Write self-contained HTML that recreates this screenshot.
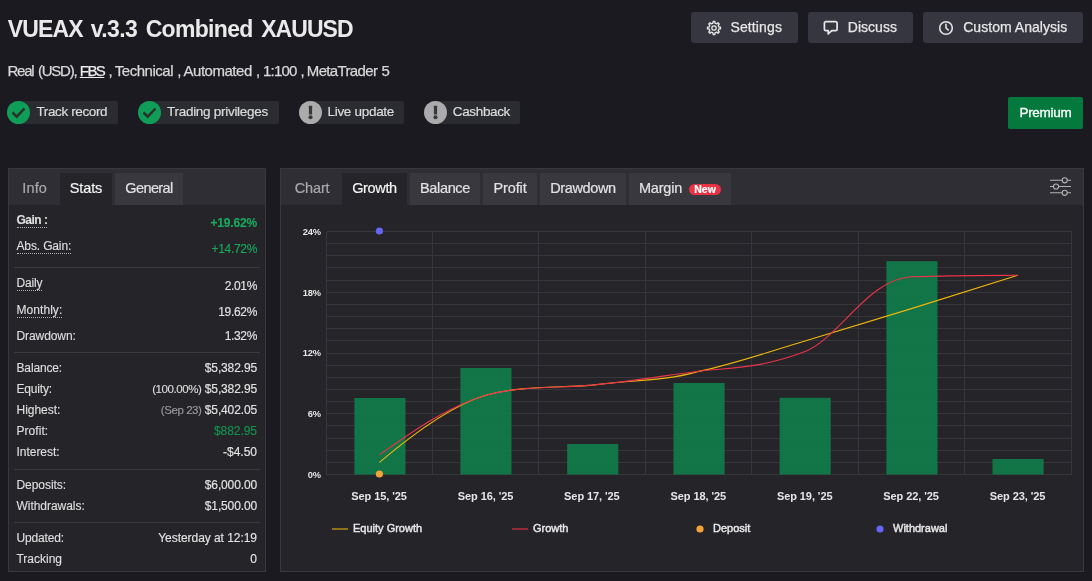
<!DOCTYPE html>
<html lang="en">
<head>
<meta charset="utf-8">
<title>VUEAX v.3.3 Combined XAUUSD</title>
<style>
*{box-sizing:border-box;margin:0;padding:0}
html,body{width:1092px;height:581px;overflow:hidden}
body{background:#1b1a20;color:#e4e4e4;font-family:"Liberation Sans",sans-serif;position:relative}
.abs{position:absolute;white-space:nowrap}
h1{position:absolute;left:8px;top:16px;font-size:23px;line-height:26px;font-weight:bold;color:#eaeaea;white-space:nowrap;letter-spacing:-0.2px}
.sub{left:8px;top:62px;font-size:15px;line-height:18px;color:#d8d8d8;-webkit-text-stroke:0.25px #d8d8d8}
.sub u{text-decoration:underline;color:#ececec;-webkit-text-stroke:0.25px #ececec}
.sub span,.sub u,h1 span{position:absolute;top:0}
.btn{top:12px;height:31px;background:#363640;border-radius:3px;color:#e6e6e6;font-size:14px;line-height:31px}
.btn svg{position:absolute}
.btn span{position:absolute;top:0px;-webkit-text-stroke:0.25px #e6e6e6}
.premium{-webkit-text-stroke:0.3px #fff;left:1008px;top:97px;width:75px;height:32px;background:#05793d;border-radius:2px;color:#fff;font-size:13.5px;line-height:31px;text-align:center}
.badge{top:101px;height:23px;background:#2b2b32;border-radius:12px 2px 2px 12px;font-size:13.5px;line-height:22px;color:#dcdcdc}
.badge i{position:absolute;left:0;top:0;width:23px;height:23px;border-radius:50%;display:block}
.badge span{position:absolute;left:29.5px;top:0px;-webkit-text-stroke:0.2px #dcdcdc}
.badge svg{position:absolute;left:0;top:0}
.ok i{background:#0f9d58}
.warn i{background:#ababab}
.panel{background:#242429;border:1px solid #38383e}
.tabbar{position:absolute;left:0;right:0;top:0;height:36px;background:#2e2e34}
.tab{-webkit-text-stroke:0.2px currentColor;position:absolute;top:4px;height:32px;font-size:14.5px;line-height:30px;color:#e2e2e2;background:#38383e;text-align:center;white-space:nowrap}
.tab.on{background:#242429;color:#f4f4f4}
.tab.lbl{background:none;color:#a9a9a9}
.row{-webkit-text-stroke:0.15px currentColor;position:absolute;left:7.5px;right:8px;height:16px;font-size:12px;line-height:16px;color:#dedede;white-space:nowrap}
.row b{font-weight:bold}
.row .k{position:absolute;left:0;top:0}
.row .k.d{border-bottom:1px dotted #b0b0b0;line-height:14px;height:15px}
.row .v{position:absolute;right:0;top:0;color:#e2e2e2}
.row .v.g{color:#19a85e}
.row .v small{font-size:11.5px;color:#9a9a9a}
.sep{position:absolute;left:5px;right:5px;height:1px;background:#3a3a40}
svg.chart{position:absolute;left:0;top:0}
svg.chart text{font-family:"Liberation Sans",sans-serif;font-size:11px;fill:#e6e6e6}
svg.chart .xl text,svg.chart .yl text{font-weight:bold;letter-spacing:-0.08px}
svg.chart .yl text{font-size:9.3px;letter-spacing:-0.1px}
svg.chart .lg text{stroke:#e6e6e6;stroke-width:0.45px}
#t0{letter-spacing:-0.850px}
#t1{letter-spacing:-0.591px}
#t2{letter-spacing:-0.682px}
#t3{letter-spacing:-0.938px}
#t4{letter-spacing:-1.215px}
#t5{letter-spacing:-1.255px}
#t6{letter-spacing:-1.562px}
#t7{letter-spacing:-2.172px}
#t8{letter-spacing:-0.483px}
#t9{letter-spacing:-2.172px}
#t10{letter-spacing:-0.472px}
#t11{letter-spacing:-2.172px}
#t12{letter-spacing:-0.809px}
#t13{letter-spacing:-1.872px}
#t14{letter-spacing:-0.648px}
#t15{letter-spacing:-0.544px}
#t16{letter-spacing:0.113px}
#t17{letter-spacing:0.026px}
#t18{letter-spacing:0.041px}
#t19{letter-spacing:-0.259px}
#t20{letter-spacing:-0.380px}
#t21{letter-spacing:-0.281px}
#t22{letter-spacing:-0.301px}
#t23{letter-spacing:-0.356px}
#t24{letter-spacing:0.128px}
#t25{letter-spacing:-0.149px}
#t26{letter-spacing:-0.599px}
#t27{letter-spacing:-0.519px}
#t28{letter-spacing:-0.174px}
#t29{letter-spacing:-0.143px}
#t30{letter-spacing:-0.317px}
#t31{letter-spacing:-0.154px}
#t32{letter-spacing:-0.346px}
#t33{letter-spacing:0.055px}
#t34{letter-spacing:-0.317px}
#t35{letter-spacing:-0.081px}
#t36{letter-spacing:-0.346px}
#t37{letter-spacing:-0.150px}
#t38{letter-spacing:-0.132px}
#t39{letter-spacing:-0.184px}
#t40{letter-spacing:-0.418px}
#t41{letter-spacing:-0.132px}
#t42{letter-spacing:-0.016px}
#t43{letter-spacing:-0.439px}
#t44{letter-spacing:-0.132px}
#t45{letter-spacing:0.051px}
#t46{letter-spacing:-0.042px}
#t47{letter-spacing:-0.029px}
#t48{letter-spacing:-0.005px}
#t49{letter-spacing:-0.048px}
#t50{letter-spacing:-0.132px}
#t51{letter-spacing:-0.041px}
#t52{letter-spacing:-0.132px}
#t53{letter-spacing:-0.150px}
#t54{letter-spacing:-0.047px}
#t55{letter-spacing:-0.010px}
#t56{letter-spacing:-0.154px}
#t57{letter-spacing:-0.358px}
#t58{letter-spacing:-0.344px}
#t59{letter-spacing:-0.107px}
#t60{letter-spacing:-0.375px}
#t61{letter-spacing:-0.205px}
.new{position:absolute;left:60px;top:11px;width:32px;height:11px;border-radius:6px;background:#e93243;color:#fff;font-size:10.5px;font-weight:bold;line-height:11px;text-align:center}
</style>
</head>
<body>
<h1><span style="left:-0.3px" id="t0">VUEAX</span> <span style="left:82.7px" id="t1">v.3.3</span> <span style="left:137.7px" id="t2">Combined</span> <span style="left:253.2px" id="t3">XAUUSD</span></h1>
<div class="abs sub"><span style="left:-0.5px" id="t4">Real</span> <span style="left:30.0px" id="t5">(USD),</span> <u style="left:71.8px" id="t6">FBS</u> <span style="left:100.5px" id="t7">,</span> <span style="left:106.8px" id="t8">Technical</span> <span style="left:169.3px" id="t9">,</span> <span style="left:175.5px" id="t10">Automated</span> <span style="left:248.0px" id="t11">,</span> <span style="left:255.0px" id="t12">1:100</span> <span style="left:292.5px" id="t13">,</span> <span style="left:298.8px" id="t14">MetaTrader</span> <span style="left:373.5px" id="t15">5</span></div>

<div class="abs btn" style="left:691px;width:107px">
<svg style="left:14.8px;top:7.75px" width="16" height="16" viewBox="-8.5 -8.5 17 17" fill="none" stroke="#e6e6e6" stroke-width="1.4" stroke-linejoin="round"><circle cx="0" cy="0" r="2.3"/><path d="M5.19,-1.07 L6.94,-0.93 L6.94,0.93 L5.19,1.07 L4.43,2.91 L5.56,4.25 L4.25,5.56 L2.91,4.43 L1.07,5.19 L0.93,6.94 L-0.93,6.94 L-1.07,5.19 L-2.91,4.43 L-4.25,5.56 L-5.56,4.25 L-4.43,2.91 L-5.19,1.07 L-6.94,0.93 L-6.94,-0.93 L-5.19,-1.07 L-4.43,-2.91 L-5.56,-4.25 L-4.25,-5.56 L-2.91,-4.43 L-1.07,-5.19 L-0.93,-6.94 L0.93,-6.94 L1.07,-5.19 L2.91,-4.43 L4.25,-5.56 L5.56,-4.25 L4.43,-2.91Z"/></svg>
<span style="left:39.5px" id="t16">Settings</span></div>
<div class="abs btn" style="left:808px;width:105px">
<svg style="left:15px;top:8px" width="16" height="16" viewBox="0 0 16 16" fill="none" stroke="#e6e6e6" stroke-width="1.75" stroke-linejoin="round"><path d="M2.9,1.6H12.6a1.5,1.5 0 0 1 1.5,1.5V9.2a1.5,1.5 0 0 1 -1.5,1.5H8.8L5.2,13.9V10.7H2.9a1.5,1.5 0 0 1 -1.5,-1.5V3.1a1.5,1.5 0 0 1 1.5,-1.5Z"/></svg>
<span style="left:39.8px" id="t17">Discuss</span></div>
<div class="abs btn" style="left:923px;width:160px">
<svg style="left:15px;top:7.6px" width="16" height="16" viewBox="0 0 16 16" fill="none" stroke="#e6e6e6" stroke-width="1.6" stroke-linecap="round" stroke-linejoin="round"><circle cx="8" cy="8" r="6.3"/><path d="M8 4.4V8l2.2 1.9"/></svg>
<span style="left:40.2px" id="t18">Custom Analysis</span></div>

<div class="abs premium" id="t19">Premium</div>

<div class="abs badge ok" style="left:7px;width:111px"><i></i><svg width="23" height="23" viewBox="0 0 23 23" fill="none" stroke="#27322c" stroke-width="2.5"><path d="M5.500 11.500l4.200 4.200 7.800-8.200"/></svg><span id="t20">Track record</span></div>
<div class="abs badge ok" style="left:138px;width:141px"><i></i><svg width="23" height="23" viewBox="0 0 23 23" fill="none" stroke="#27322c" stroke-width="2.5"><path d="M5.500 11.500l4.200 4.200 7.800-8.200"/></svg><span style="left:29px" id="t21">Trading privileges</span></div>
<div class="abs badge warn" style="left:299px;width:105px"><i></i><svg width="23" height="23" viewBox="0 0 23 23"><rect x="9.9" y="4.7" width="3.2" height="8.8" rx="0.5" fill="#37373c"/><circle cx="11.5" cy="16.3" r="2.05" fill="#37373c"/></svg><span style="left:28.5px" id="t22">Live update</span></div>
<div class="abs badge warn" style="left:424px;width:96px"><i></i><svg width="23" height="23" viewBox="0 0 23 23"><rect x="9.9" y="4.7" width="3.2" height="8.8" rx="0.5" fill="#37373c"/><circle cx="11.5" cy="16.3" r="2.05" fill="#37373c"/></svg><span style="left:28.8px" id="t23">Cashback</span></div>

<div class="abs panel" style="left:8px;top:168px;width:258px;height:404px">
<div class="tabbar">
<div class="tab lbl" style="left:2.7px;width:46px" id="t24">Info</div>
<div class="tab on" style="left:51px;width:52px" id="t25">Stats</div>
<div class="tab" style="left:106px;width:68px" id="t26">General</div>
</div>
<div class="row" style="top:44px"><b class="k d" id="t27">Gain :</b><b class="v g" style="top:2px" id="t28">+19.62%</b></div>
<div class="row" style="top:70px"><span class="k d" id="t29">Abs. Gain:</span><span class="v g" style="top:2px" id="t30">+14.72%</span></div>
<div class="sep" style="top:98px"></div>
<div class="row" style="top:107px"><span class="k d" id="t31">Daily</span><span class="v" style="top:2px" id="t32">2.01%</span></div>
<div class="row" style="top:134px"><span class="k d" id="t33">Monthly:</span><span class="v" style="top:1px" id="t34">19.62%</span></div>
<div class="row" style="top:159px"><span class="k" id="t35">Drawdown:</span><span class="v" id="t36">1.32%</span></div>
<div class="sep" style="top:183px"></div>
<div class="row" style="top:191px"><span class="k" id="t37">Balance:</span><span class="v" id="t38">$5,382.95</span></div>
<div class="row" style="top:212px"><span class="k" id="t39">Equity:</span><span class="v"><small style="color:#dcdcdc" id="t40">(100.00%)</small> <span id="t41">$5,382.95</span></span></div>
<div class="row" style="top:233px"><span class="k" id="t42">Highest:</span><span class="v"><small id="t43">(Sep 23)</small> <span id="t44">$5,402.05</span></span></div>
<div class="row" style="top:254px"><span class="k" id="t45">Profit:</span><span class="v g" style="color:#14934f" id="t46">$882.95</span></div>
<div class="row" style="top:275px"><span class="k" id="t47">Interest:</span><span class="v" id="t48">-$4.50</span></div>
<div class="sep" style="top:300px"></div>
<div class="row" style="top:308px"><span class="k" id="t49">Deposits:</span><span class="v" id="t50">$6,000.00</span></div>
<div class="row" style="top:329px"><span class="k" id="t51">Withdrawals:</span><span class="v" id="t52">$1,500.00</span></div>
<div class="sep" style="top:353px"></div>
<div class="row" style="top:361px"><span class="k" id="t53">Updated:</span><span class="v" id="t54">Yesterday at 12:19</span></div>
<div class="row" style="top:382px"><span class="k" id="t55">Tracking</span><span class="v">0</span></div>
</div>

<div class="abs panel" style="left:280px;top:168px;width:804px;height:404px">
<div class="tabbar">
<div class="tab lbl" style="left:2.1px;width:58px" id="t56">Chart</div>
<div class="tab on" style="left:61px;width:65px" id="t57">Growth</div>
<div class="tab" style="left:129px;width:70px" id="t58">Balance</div>
<div class="tab" style="left:202px;width:54px" id="t59">Profit</div>
<div class="tab" style="left:259px;width:86px" id="t60">Drawdown</div>
<div class="tab" style="left:348px;width:102px;text-align:left;padding-left:10px"><span id="t61">Margin</span><span class="new">New</span></div>
<svg style="position:absolute;left:769px;top:7px" width="23" height="21" viewBox="0 0 23 21" fill="none" stroke="#b4b4b4" stroke-width="1.1"><path d="M0 4.300h12.100M17.300 4.300H21M0 10.500h3.400M8.600 10.500H21M0 16.800h12.100M17.300 16.800H21"/><circle cx="14.700" cy="4.300" r="2.550"/><circle cx="6" cy="10.500" r="2.550"/><circle cx="14.700" cy="16.800" r="2.550"/></svg>
</div>
</div>
<svg class="chart" width="1092" height="581" viewBox="0 0 1092 581">
<g stroke="#36363c" stroke-width="1" shape-rendering="crispEdges">
<line x1="326.5" x2="1071.5" y1="231.5" y2="231.5"/>
<line x1="326.5" x2="1071.5" y1="243.5" y2="243.5"/>
<line x1="326.5" x2="1071.5" y1="255.5" y2="255.5"/>
<line x1="326.5" x2="1071.5" y1="267.5" y2="267.5"/>
<line x1="326.5" x2="1071.5" y1="280.5" y2="280.5"/>
<line x1="326.5" x2="1071.5" y1="292.5" y2="292.5"/>
<line x1="326.5" x2="1071.5" y1="304.5" y2="304.5"/>
<line x1="326.5" x2="1071.5" y1="316.5" y2="316.5"/>
<line x1="326.5" x2="1071.5" y1="328.5" y2="328.5"/>
<line x1="326.5" x2="1071.5" y1="340.5" y2="340.5"/>
<line x1="326.5" x2="1071.5" y1="353.5" y2="353.5"/>
<line x1="326.5" x2="1071.5" y1="365.5" y2="365.5"/>
<line x1="326.5" x2="1071.5" y1="377.5" y2="377.5"/>
<line x1="326.5" x2="1071.5" y1="389.5" y2="389.5"/>
<line x1="326.5" x2="1071.5" y1="401.5" y2="401.5"/>
<line x1="326.5" x2="1071.5" y1="413.5" y2="413.5"/>
<line x1="326.5" x2="1071.5" y1="425.5" y2="425.5"/>
<line x1="326.5" x2="1071.5" y1="438.5" y2="438.5"/>
<line x1="326.5" x2="1071.5" y1="450.5" y2="450.5"/>
<line x1="326.5" x2="1071.5" y1="462.5" y2="462.5"/>
<line x1="326.5" x2="1071.5" y1="474.5" y2="474.5"/>
<line x1="326.5" x2="326.5" y1="231.5" y2="474.5"/>
<line x1="432.5" x2="432.5" y1="231.5" y2="474.5"/>
<line x1="538.5" x2="538.5" y1="231.5" y2="474.5"/>
<line x1="645.5" x2="645.5" y1="231.5" y2="474.5"/>
<line x1="751.5" x2="751.5" y1="231.5" y2="474.5"/>
<line x1="858.5" x2="858.5" y1="231.5" y2="474.5"/>
<line x1="964.5" x2="964.5" y1="231.5" y2="474.5"/>
<line x1="1071.5" x2="1071.5" y1="231.5" y2="474.5"/>
</g>
<g fill="#12794a" fill-opacity="0.96">
<rect x="354.4" y="398" width="51.1" height="76.5"/>
<rect x="460.4" y="368" width="51.1" height="106.5"/>
<rect x="567.2" y="444" width="51.1" height="30.5"/>
<rect x="673.5" y="383" width="51.1" height="91.5"/>
<rect x="779.6" y="397.8" width="51.1" height="76.7"/>
<rect x="886.4" y="261.2" width="51.1" height="213.3"/>
<rect x="992.5" y="459" width="51.1" height="15.5"/>
</g>
<path d="M379.4,462.4 C418.2,429.4 454.8,404.4 485.8,395.2 C521.3,385.5 556.7,388.1 592.2,385.1 C628.3,379.8 663.3,381.8 698.6,371.4 C734.1,364.0 769.5,351.5 805.0,341.0 C840.5,330.5 875.9,319.6 911.4,308.6 C946.9,297.7 982.3,286.4 1017.8,275.3" fill="none" stroke="#f0b60e" stroke-width="1.1"/>
<path d="M379.4,454.9 C421.0,425.1 450.4,406.1 485.8,395.2 C521.3,385.6 556.7,388.4 592.2,385.1 C628.0,381.9 663.9,375.7 698.6,371.2 C735.3,367.2 763.3,367.8 805.0,351.6 C840.0,337.4 868.0,278.8 911.4,276.8 C946.9,275.3 982.3,275.4 1017.8,275.3" fill="none" stroke="#ea3449" stroke-width="1.1"/>
<circle cx="379.4" cy="474" r="3.6" fill="#f2a33a"/>
<circle cx="379.4" cy="231" r="3.6" fill="#6666f5"/>
<g class="xl" text-anchor="middle">
<text x="379.1" y="500">Sep 15, '25</text>
<text x="485.5" y="500">Sep 16, '25</text>
<text x="591.9" y="500">Sep 17, '25</text>
<text x="698.3" y="500">Sep 18, '25</text>
<text x="804.7" y="500">Sep 19, '25</text>
<text x="911.1" y="500">Sep 22, '25</text>
<text x="1017.5" y="500">Sep 23, '25</text>
</g>
<g class="yl" text-anchor="end">
<text x="321" y="477.9">0%</text>
<text x="321" y="417.1">6%</text>
<text x="321" y="356.4">12%</text>
<text x="321" y="295.6">18%</text>
<text x="321" y="234.9">24%</text>
</g>
<g class="lg">
<line x1="332" x2="348" y1="529" y2="529" stroke="#9c7a1c" stroke-width="1.8"/>
<text x="353" y="532.3">Equity Growth</text>
<line x1="512" x2="528" y1="529" y2="529" stroke="#a02c3a" stroke-width="1.8"/>
<text x="533" y="532.3">Growth</text>
<circle cx="700" cy="529" r="3.6" fill="#f2a33a"/>
<text x="713" y="532.3">Deposit</text>
<circle cx="880" cy="529" r="3.6" fill="#6666f5"/>
<text x="893" y="532.3">Withdrawal</text>
</g>
</svg>
</body>
</html>
